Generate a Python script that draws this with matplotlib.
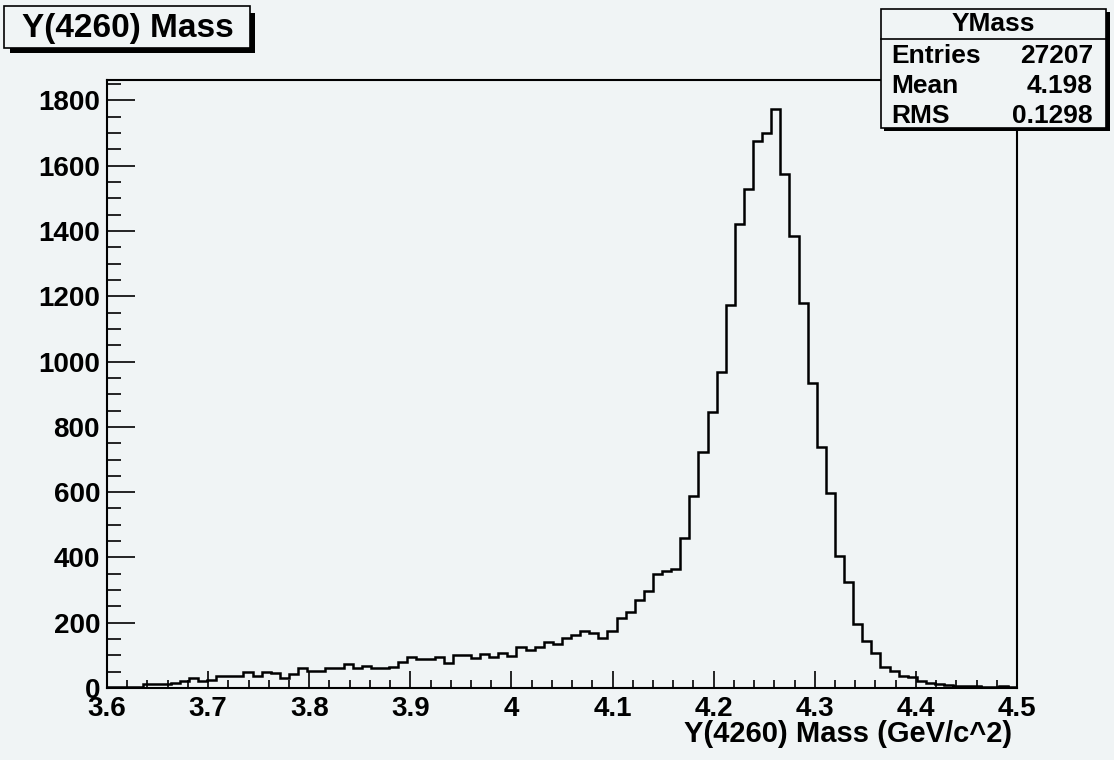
import matplotlib
matplotlib.use("Agg")
import matplotlib.pyplot as plt
from matplotlib.patches import Rectangle
import numpy as np

# histogram YMass: 100 bins from 3.6 to 4.5 GeV/c^2
x_min = 3.6
x_max = 4.5
counts = [2, 3, 2, 4, 12, 12, 13, 16, 22, 32,
          22, 25, 37, 37, 38, 48, 37, 48, 45, 30,
          43, 60, 53, 53, 62, 62, 74, 60, 68, 60,
          60, 65, 79, 94, 88, 88, 96, 76, 101, 101,
          91, 103, 96, 108, 98, 127, 117, 125, 140, 135,
          153, 163, 176, 170, 153, 176, 214, 234, 270, 296,
          350, 357, 364, 460, 589, 722, 845, 968, 1173, 1421,
          1529, 1675, 1701, 1774, 1575, 1386, 1179, 935, 739, 596,
          403, 326, 196, 145, 108, 65, 52, 37, 35, 21,
          14, 12, 9, 7, 5, 6, 4, 3, 6, 3]

hist_title = "Y(4260) Mass"
x_title = "Y(4260) Mass (GeV/c^2)"
stats_name = "YMass"
stats_rows = [("Entries", "27207"), ("Mean", "4.198"), ("RMS", "0.1298")]

W, H = 1114, 760
bg = "#f0f4f5"
plt.rcParams['font.family'] = ['Liberation Sans', 'DejaVu Sans']
plt.rcParams['font.weight'] = 'bold'


def fx(px):
    return px / W


def fy(py):
    return 1 - py / H


fig = plt.figure(figsize=(W / 100, H / 100), dpi=100, facecolor=bg)
ax = fig.add_axes([fx(107), fy(688), fx(1017) - fx(107), fy(80) - fy(688)])
ax.set_facecolor(bg)

edges = np.linspace(x_min, x_max, len(counts) + 1)
ax.stairs(counts, edges, color='black', lw=1.8)
ax.set_xlim(x_min, x_max)
ax.set_ylim(0, max(counts) * 1.05)

ax.set_xticks(np.arange(3.6, 4.51, 0.1))
ax.set_xticklabels(['3.6', '3.7', '3.8', '3.9', '4', '4.1', '4.2', '4.3', '4.4', '4.5'])
ax.set_xticks(np.arange(3.6, 4.51, 0.02), minor=True)
ax.set_yticks(np.arange(0, 1801, 200))
ax.set_yticks(np.arange(0, 1851, 50), minor=True)

ax.tick_params(axis='x', which='major', direction='in', length=12.5, width=1.2,
               labelsize=20, pad=6)
ax.tick_params(axis='x', which='minor', direction='in', length=6, width=1.2)
ax.tick_params(axis='y', which='major', direction='in', length=20, width=1.2,
               labelsize=20, pad=5)
ax.tick_params(axis='y', which='minor', direction='in', length=10, width=1.2)
for lab in ax.get_xticklabels() + ax.get_yticklabels():
    lab.set_fontweight('bold')
for s in ax.spines.values():
    s.set_linewidth(1.5)

fig.text(fx(1012), fy(734), x_title, ha='right', va='center', fontsize=21,
         fontweight='bold')

# title box with shadow
fig.patches.append(Rectangle((fx(10), fy(53)), fx(255) - fx(10), fy(13) - fy(53),
                             transform=fig.transFigure, facecolor='black',
                             edgecolor='none', zorder=5))
fig.patches.append(Rectangle((fx(4), fy(48)), fx(250) - fx(4), fy(6) - fy(48),
                             transform=fig.transFigure, facecolor=bg,
                             edgecolor='black', lw=1.2, zorder=6))
fig.text(fx(22), fy(28), hist_title, ha='left', va='center', fontsize=24,
         fontweight='bold', zorder=7)

# stats box with shadow
fig.patches.append(Rectangle((fx(884), fy(131)), fx(1110) - fx(884), fy(12) - fy(131),
                             transform=fig.transFigure, facecolor='black',
                             edgecolor='none', zorder=5))
fig.patches.append(Rectangle((fx(881), fy(128)), fx(1106) - fx(881), fy(9) - fy(128),
                             transform=fig.transFigure, facecolor=bg,
                             edgecolor='black', lw=1.2, zorder=6))
fig.lines.append(plt.Line2D([fx(881), fx(1106)], [fy(39), fy(39)],
                            transform=fig.transFigure, color='black', lw=1.2,
                            zorder=7))
fig.text(fx(993), fy(24), stats_name, ha='center', va='center', fontsize=19,
         fontweight='bold', zorder=7)
for i, (name, val) in enumerate(stats_rows):
    yy = 56 + i * 30
    fig.text(fx(891), fy(yy), name, ha='left', va='center', fontsize=19,
             fontweight='bold', zorder=7)
    fig.text(fx(1093), fy(yy), val, ha='right', va='center', fontsize=19,
             fontweight='bold', zorder=7)

fig.savefig("out.png", dpi=100, facecolor=bg)
